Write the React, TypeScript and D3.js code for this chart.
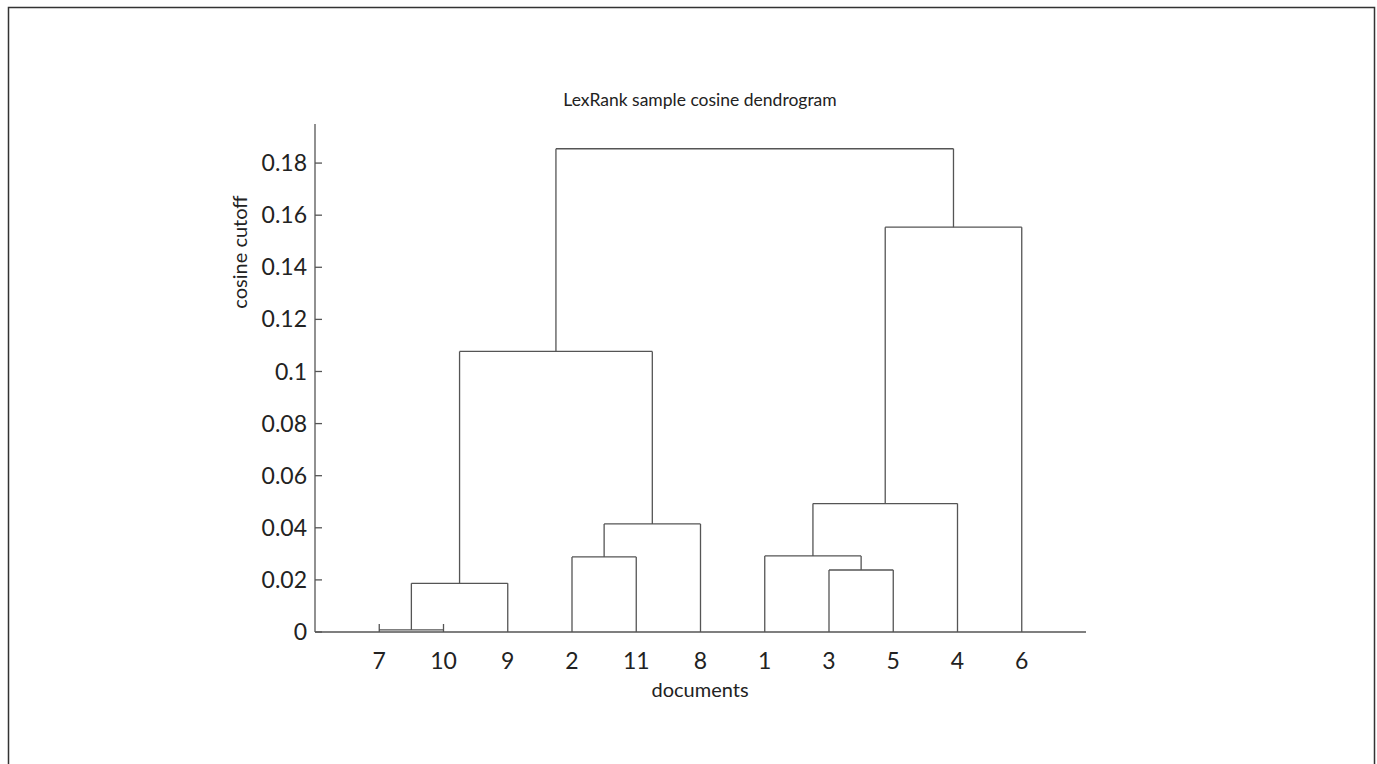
import React from 'react';
import * as d3 from 'd3';

// leaf order along the x axis
const leafOrder = [7, 10, 9, 2, 11, 8, 1, 3, 5, 4, 6];
// linkage (matlab style: leaves 1..11, cluster 11+i for row i)
const mergeA = [7, 12, 2, 14, 13, 3, 1, 18, 19, 16];
const mergeB = [10, 9, 11, 8, 15, 5, 17, 4, 6, 20];
const mergeH = [0.0008, 0.0187, 0.0288, 0.0415, 0.1077, 0.0238, 0.0292, 0.0493, 0.1554, 0.1855];
const yTicks = [0, 0.02, 0.04, 0.06, 0.08, 0.1, 0.12, 0.14, 0.16, 0.18];

const W = 1377, H = 764;
const FONT = 'Lato, "Open Sans", sans-serif';
const INK = '#222';
const LINE = '#555';

export default function App() {
  const x = d3.scaleLinear().domain([0, 12]).range([315, 1086]);
  const y = d3.scaleLinear().domain([0, 0.195]).range([632, 124]);

  const n = leafOrder.length;
  const pos: Record<number, number> = {};
  const hgt: Record<number, number> = {};
  leafOrder.forEach((leaf, i) => {
    pos[leaf] = i + 1;
    hgt[leaf] = 0;
  });

  // leaf legs get a minimum visible length (tiny merges show little caps)
  const legTop = (id: number, h: number) => (id <= n ? Math.min(y(h), y(0) - 8) : y(h));

  const links: string[] = [];
  mergeH.forEach((h, i) => {
    const id = n + 1 + i;
    const a = mergeA[i], b = mergeB[i];
    const p = d3.path();
    p.moveTo(x(pos[a]), y(hgt[a]));
    p.lineTo(x(pos[a]), legTop(a, h));
    p.moveTo(x(pos[a]), y(h));
    p.lineTo(x(pos[b]), y(h));
    p.moveTo(x(pos[b]), legTop(b, h));
    p.lineTo(x(pos[b]), y(hgt[b]));
    links.push(p.toString());
    pos[id] = (pos[a] + pos[b]) / 2;
    hgt[id] = h;
  });

  const fmt = (v: number) => String(+v.toFixed(2));

  return (
    <svg width={W} height={H} style={{ position: 'absolute', left: 0, top: 0, background: '#fff' }}>
      <rect x={8.5} y={7.5} width={1366} height={800} fill="none" stroke="#333" strokeWidth={1.5} />

      <text x={700} y={106} textAnchor="middle" fontFamily={FONT} fontSize={17.5} fill={INK}>
        LexRank sample cosine dendrogram
      </text>

      {/* axes */}
      <line x1={x(0)} x2={x(0)} y1={y(0.195)} y2={y(0)} stroke={LINE} strokeWidth={1.3} />
      <line x1={x(0)} x2={x(12)} y1={y(0)} y2={y(0)} stroke={LINE} strokeWidth={1.3} />

      {yTicks.map((t) => (
        <g key={t} transform={`translate(${x(0)},${y(t)})`}>
          <line x1={0} x2={7} stroke={LINE} strokeWidth={1.3} />
          <text x={-8} dy="0.35em" textAnchor="end" fontFamily={FONT} fontSize={23} fill={INK}>
            {fmt(t)}
          </text>
        </g>
      ))}

      {leafOrder.map((leaf, i) => (
        <text key={leaf} x={x(i + 1)} y={669} textAnchor="middle" fontFamily={FONT} fontSize={23} fill={INK}>
          {leaf}
        </text>
      ))}

      {links.map((d, i) => (
        <path key={i} d={d} fill="none" stroke={LINE} strokeWidth={1.3} />
      ))}

      <text x={700} y={697} textAnchor="middle" fontFamily={FONT} fontSize={20} fill={INK}>
        documents
      </text>
      <text transform="translate(247,252) rotate(-90)" textAnchor="middle" fontFamily={FONT} fontSize={20} fill={INK}>
        cosine cutoff
      </text>
    </svg>
  );
}
